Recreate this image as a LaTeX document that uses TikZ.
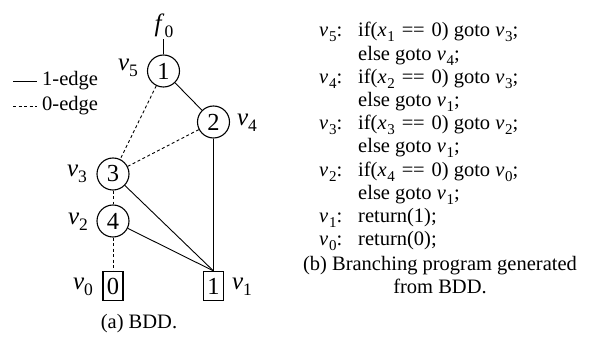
\documentclass[tikz,border=0pt]{standalone}
\usepackage{fontspec}
\setmainfont{Liberation Serif}
\newcommand{\vsb}[2]{\textit{#1}\hspace{0.8pt}\raisebox{-5pt}[0pt][0pt]{\fontsize{15}{15}\selectfont #2}}
\newcommand{\vlb}[2]{{\fontsize{25}{25}\selectfont\textit{#1}\raisebox{-5.5pt}{\fontsize{17.5}{17.5}\selectfont #2}}}
\newcommand{\eqq}{\hspace{7pt}=\hspace{-0.5pt}=\hspace{7pt}}
\begin{document}
\begin{tikzpicture}[x=1pt,y=-1pt,font=\fontsize{20.5}{24}\selectfont,
  bddnode/.style={circle,draw,line width=1.1pt,minimum size=32pt,inner sep=0pt,font=\fontsize{24.5}{24.5}\selectfont},
  termnode/.style={rectangle,draw,line width=1.1pt,minimum width=20pt,minimum height=29pt,inner sep=0pt,font=\fontsize{24.5}{24.5}\selectfont},
  oneedge/.style={line width=0.9pt},
  zeroedge/.style={line width=0.9pt,dash pattern=on 3pt off 2.5pt},
  lbl/.style={inner sep=0pt},
  code/.style={inner sep=0pt,anchor=base west}]
\useasboundingbox (0,0) rectangle (590,342);
% BDD nodes
\node[bddnode] (n1) at (163.5,71) {1};
\node[bddnode] (n2) at (213.5,122) {2};
\node[bddnode] (n3) at (113,174) {3};
\node[bddnode] (n4) at (113,221) {4};
\node[termnode] (b0) at (113,286) {0};
\node[termnode] (b1) at (213.5,286) {1};
% labels
\node[lbl,inner sep=1pt] (f0) at (164,26) {\vlb{f}{0}};
\node[lbl] (l5) at (128,68) {\vlb{v}{5}};
\node[lbl] (l4) at (247,123) {\vlb{v}{4}};
\node[lbl] (l3) at (77,174) {\vlb{v}{3}};
\node[lbl] (l2) at (78,222) {\vlb{v}{2}};
\node[lbl] (l0) at (83,287) {\vlb{v}{0}};
\node[lbl] (l1) at (242,287) {\vlb{v}{1}};
% edges
\draw[oneedge] (n1.north) -- (n1.north |- f0.south);
\draw[oneedge] (n1) -- (n2);
\draw[zeroedge] (n1) -- (n3);
\draw[zeroedge] (n2) -- (n3);
\draw[oneedge] (n2) -- (b1.north);
\draw[oneedge] (n3) -- (b1.north);
\draw[oneedge] (n4) -- (b1.north);
\draw[zeroedge] (n3) -- (n4);
\draw[zeroedge] (n4) -- (b0);
% legend
\coordinate (la) at (13,81);
\coordinate (lb) at (37,81);
\coordinate (lc) at (13,106);
\coordinate (ld) at (37,106);
\draw[oneedge] (la) -- (lb);
\draw[zeroedge] (lc) -- (ld);
\node[lbl,anchor=west] (t1) at (42,81) {1-edge};
\node[lbl,anchor=west] (t0) at (42,106) {0-edge};
\node[code,anchor=base] (capa) at (139,329) {(a) BDD.};
% program
\node[code] (p5) at (319,37) {\vsb{v}{5}:};
\node[code] (q5) at (358,37) {if(\vsb{x}{1}\eqq0) goto \vsb{v}{3};};
\node[code] (r5) at (358,60.2) {else goto \vsb{v}{4};};
\node[code] (p4) at (319,83.4) {\vsb{v}{4}:};
\node[code] (q4) at (358,83.4) {if(\vsb{x}{2}\eqq0) goto \vsb{v}{3};};
\node[code] (r4) at (358,106.6) {else goto \vsb{v}{1};};
\node[code] (p3) at (319,129.8) {\vsb{v}{3}:};
\node[code] (q3) at (358,129.8) {if(\vsb{x}{3}\eqq0) goto \vsb{v}{2};};
\node[code] (r3) at (358,153) {else goto \vsb{v}{1};};
\node[code] (p2) at (319,176.2) {\vsb{v}{2}:};
\node[code] (q2) at (358,176.2) {if(\vsb{x}{4}\eqq0) goto \vsb{v}{0};};
\node[code] (r2) at (358,199.4) {else goto \vsb{v}{1};};
\node[code] (p1) at (319,222.6) {\vsb{v}{1}:};
\node[code] (q1) at (358,222.6) {return(1);};
\node[code] (p0) at (319,245.8) {\vsb{v}{0}:};
\node[code] (q0) at (358,245.8) {return(0);};
\node[code,anchor=base] (capb1) at (440,271) {(b) Branching program generated};
\node[code,anchor=base] (capb2) at (440,294) {from BDD.};
\end{tikzpicture}
\end{document}
